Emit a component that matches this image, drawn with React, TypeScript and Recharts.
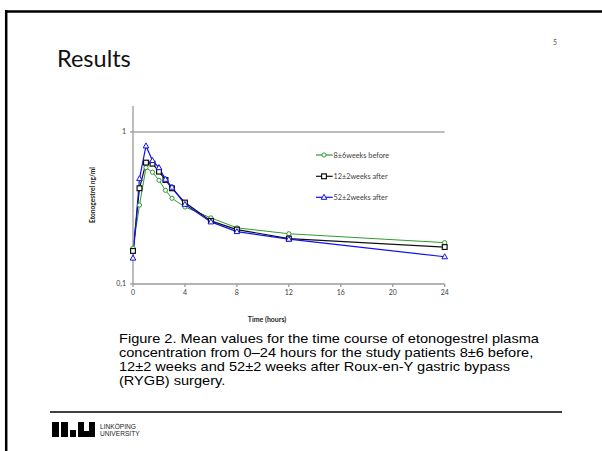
import { LineChart, Line, XAxis, YAxis, ReferenceLine, Legend } from 'recharts';

// Data
const hours = [0, 0.5, 1, 1.5, 2, 2.5, 3, 4, 6, 8, 12, 24];
const before = [0.172, 0.33, 0.582, 0.543, 0.481, 0.413, 0.366, 0.321, 0.272, 0.234, 0.214, 0.187];
const after12 = [0.165, 0.426, 0.628, 0.618, 0.548, 0.483, 0.426, 0.343, 0.26, 0.228, 0.199, 0.175];
const after52 = [0.148, 0.493, 0.809, 0.648, 0.582, 0.488, 0.433, 0.334, 0.256, 0.221, 0.197, 0.151];
const seriesNames = ['8±6weeks before', '12±2weeks after', '52±2weeks after'];
const xTicks = [0, 4, 8, 12, 16, 20, 24];
const yTicks = [0.1, 1];
const captionLines = [
  'Figure 2. Mean values for the time course of etonogestrel plasma',
  'concentration from 0–24 hours for the study patients 8±6 before,',
  '12±2 weeks and 52±2 weeks after Roux-en-Y gastric bypass',
  '(RYGB) surgery.',
];

const data = hours.map((t, i) => ({ t, before: before[i], after12: after12[i], after52: after52[i] }));

const GREEN = '#2f9a2f';
const BLACK = '#111111';
const BLUE = '#1010f0';
const FONT = 'Lato, "Open Sans", sans-serif';
const ARIAL = '"Liberation Sans", Arial, sans-serif';

// Marker shapes
const circle = (cx: number, cy: number, key?: any) => (
  <circle key={key} cx={cx} cy={cy} r={2.1} fill="#fff" stroke={GREEN} strokeWidth={1} />
);
const square = (cx: number, cy: number, key?: any) => (
  <rect key={key} x={cx - 2.4} y={cy - 2.4} width={4.8} height={4.8} fill="#fff" stroke={BLACK} strokeWidth={1.2} />
);
const triangle = (cx: number, cy: number, key?: any) => (
  <path
    key={key}
    d={`M${cx},${cy - 3} L${cx + 2.8},${cy + 2} L${cx - 2.8},${cy + 2} Z`}
    fill="#fff"
    stroke={BLUE}
    strokeWidth={1}
  />
);
const shapes = [circle, square, triangle];
const colors = [GREEN, BLACK, BLUE];

const dotOf = (fn: typeof circle) => (p: any) => fn(p.cx, p.cy, `${p.index}`);

const LegendBox = () => (
  <svg width={100} height={64} style={{ display: 'block' }}>
    {seriesNames.map((name, i) => {
      const y = [10, 31.3, 52.3][i];
      return (
        <g key={name}>
          <line x1={6} x2={22.7} y1={y} y2={y} stroke={colors[i]} strokeWidth={1.2} />
          {shapes[i](14, y)}
          <text x={23.5} y={y + 2.5} fontSize={7.3} fill="#404040" fontFamily={FONT}>
            {name}
          </text>
        </g>
      );
    })}
  </svg>
);

export default function App() {
  return (
    <div style={{ position: 'absolute', left: 0, top: 0, width: 602, height: 451, background: '#fff', overflow: 'hidden' }}>
      {/* slide decorations */}
      <svg width={602} height={451} style={{ position: 'absolute', left: 0, top: 0 }}>
        <line x1={6.2} x2={6.2} y1={10} y2={451} stroke="#000" strokeWidth={2.5} />
        <line x1={5} x2={602} y1={11.4} y2={11.4} stroke="#000" strokeWidth={2.5} />
        <text x={57} y={67} fontSize={23.5} fontFamily={FONT} fill="#111">Results</text>
        <text x={553} y={45} fontSize={7} fontFamily={FONT} fill="#555">5</text>
        {/* caption: text in the slide is stretched sideways */}
        {captionLines.map((l, i) => (
          <text
            key={i}
            x={0}
            y={0}
            transform={`translate(119,${342.5 + i * 14}) scale(1.175,1)`}
            fontSize={12.4}
            fontFamily={ARIAL}
            fill="#000"
          >
            {l}
          </text>
        ))}
        <line x1={50} x2={562} y1={412} y2={412} stroke="#000" strokeWidth={1.3} />
        {/* LiU logo */}
        <g fill="#000">
          <rect x={52} y={422} width={7} height={15} />
          <rect x={61} y={422} width={7} height={15} />
          <rect x={70} y={430} width={6} height={7} />
          <path d="M78,422 h6 v9 h5 v-9 h6 v15 h-17 Z" />
        </g>
        <text x={100} y={428.5} fontSize={6.6} fontFamily={ARIAL} fill="#222">LINKÖPING</text>
        <text x={100} y={435.5} fontSize={6.6} fontFamily={ARIAL} fill="#222">UNIVERSITY</text>
        {/* axis titles */}
        <text x={267} y={321.5} textAnchor="middle" fontSize={7} fontWeight={700} fontFamily={FONT} fill="#222">
          Time (hours)
        </text>
        <text
          x={0}
          y={0}
          transform="translate(94.5,195) rotate(-90)"
          textAnchor="middle"
          fontSize={6.6}
          fontWeight={700}
          fontFamily={FONT}
          fill="#222"
        >
          Etonogestrel ng/ml
        </text>
      </svg>

      <div style={{ position: 'absolute', left: 0, top: 0 }}>
        <LineChart
          width={602}
          height={451}
          data={data}
          margin={{ top: 106, left: 93, right: 157.3, bottom: 137 }}
        >
          <XAxis
            dataKey="t"
            type="number"
            domain={[0, 24]}
            ticks={xTicks}
            height={30}
            stroke="#9a9a9a"
            strokeWidth={1.3}
            tickSize={3}
            tickMargin={3}
            tick={{ fontSize: 7, fill: '#404040', fontFamily: FONT }}
          />
          <YAxis
            type="number"
            scale="log"
            domain={[0.1, 1.48]}
            allowDataOverflow
            ticks={yTicks}
            width={40}
            stroke="#9a9a9a"
            strokeWidth={1.3}
            tickSize={3}
            tickMargin={4}
            tickFormatter={(v: number) => (v === 1 ? '1' : String(v).replace('.', ','))}
            tick={{ fontSize: 7, fill: '#404040', fontFamily: FONT }}
          />
          <ReferenceLine y={1} stroke="#bdbdbd" strokeWidth={2} />
          <Legend
            layout="vertical"
            align="center"
            verticalAlign="middle"
            content={<LegendBox />}
            wrapperStyle={{ left: 310, top: 145, width: 100, height: 64 }}
          />
          <Line
            dataKey="before"
            name={seriesNames[0]}
            stroke={GREEN}
            strokeWidth={1}
            dot={dotOf(circle)}
            isAnimationActive={false}
          />
          <Line
            dataKey="after12"
            name={seriesNames[1]}
            stroke={BLACK}
            strokeWidth={1.2}
            dot={dotOf(square)}
            isAnimationActive={false}
          />
          <Line
            dataKey="after52"
            name={seriesNames[2]}
            stroke={BLUE}
            strokeWidth={1.2}
            dot={dotOf(triangle)}
            isAnimationActive={false}
          />
        </LineChart>
      </div>
    </div>
  );
}
